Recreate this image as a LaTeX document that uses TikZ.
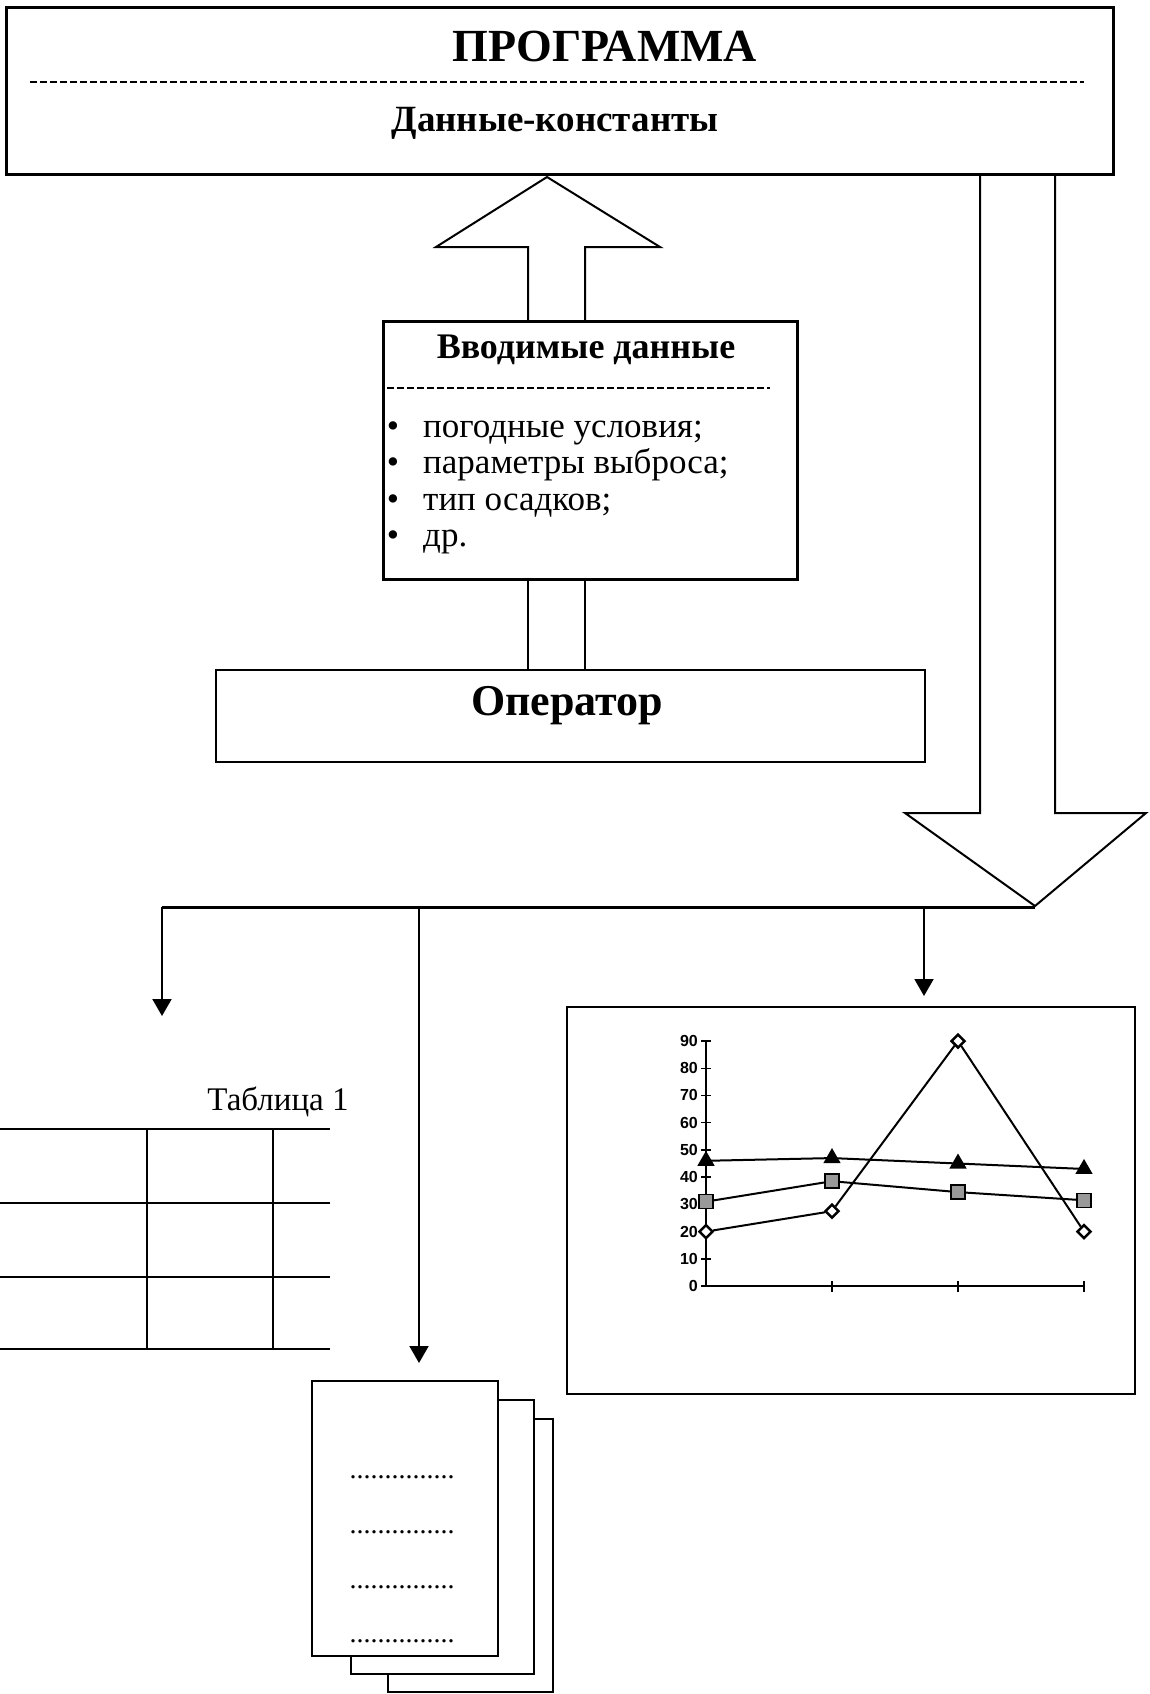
\documentclass[tikz,border=0pt]{standalone}
\usepackage{fontspec}
\setmainfont{Liberation Serif}
\setsansfont{Liberation Sans}
\usetikzlibrary{arrows.meta,shapes.geometric}

\begin{document}
\begin{tikzpicture}[x=1pt,y=-1pt,
  box/.style={draw,line width=3pt,inner sep=0pt},
  sepline/.style={line width=2pt,dash pattern=on 7pt off 3pt},
  hollow/.style={line width=2pt,line join=miter},
  feed/.style={line width=2pt,-{Triangle[length=17pt,width=19pt]}},
  gridline/.style={line width=2pt},
  page/.style={draw,line width=2pt,fill=white,inner sep=0pt},
  lbl/.style={inner sep=0pt},
  diamark/.style={diamond,draw,line width=2.5pt,fill=white,minimum size=14pt,inner sep=0pt},
  sqmark/.style={rectangle,draw,line width=1.5pt,fill=black!40,minimum size=14pt,inner sep=0pt},
  trimark/.style={regular polygon,regular polygon sides=3,fill=black,minimum size=20pt,inner sep=0pt},
  serline/.style={line width=2pt}]
  \useasboundingbox (0,0) rectangle (1150,1694);

  % program block
  \node[box,minimum width=1107pt,minimum height=166pt] (prog) at (559.5,91) {};
  \node[lbl,anchor=base,font=\fontsize{46}{50}\selectfont\bfseries] (progname) at (605,62) {ПРОГРАММА};
  \draw[sepline] (30,82) -- (1084,82);
  \node[lbl,anchor=base,font=\fontsize{37}{40}\selectfont\bfseries] (consts) at (555,131) {Данные-константы};

  % input data
  \node[box,minimum width=414pt,minimum height=258pt] (input) at (590,450) {};
  \node[lbl,anchor=base,font=\fontsize{36}{40}\selectfont\bfseries] (inname) at (586,358) {Вводимые данные};
  \draw[sepline] (387,388) -- (770,388);
  \begin{scope}[font=\fontsize{35}{38}\selectfont]
   \foreach \txt [count=\i] in {погодные условия;,параметры выброса;,тип осадков;,др.} {
     \node[lbl,anchor=base] (bul\i) at (393,{437+36.5*(\i-1)}) {•};
     \node[lbl,anchor=base west] (item\i) at (423,{437+36.5*(\i-1)}) {\txt};
   }
  \end{scope}

  % operator
  \node[draw,line width=2.5pt,minimum width=709pt,minimum height=92pt] (oper) at (570.5,716) {};
  \node[lbl,anchor=base,font=\fontsize{44}{48}\selectfont\bfseries] (opname) at (567,715) {Оператор};

  % hollow arrow up
  \draw[hollow] (528,321) -- (528,247) -- (436,247) -- (547,177) -- (660,247) -- (585,247) -- (585,321);
  \draw[hollow] (528,579) -- (528,670);
  \draw[hollow] (585,579) -- (585,670);

  % hollow arrow down
  \draw[hollow] (980,175) -- (980,813) -- (905,813) -- (1035,906) -- (1146,813) -- (1055,813) -- (1055,175);

  % outputs
  \coordinate (tip) at (1035,907);
  \coordinate (fork) at (162,907);
  \coordinate (b2) at (419,907);
  \coordinate (b3) at (924,907);
  \coordinate (tabtop) at (162,1016);
  \draw[line width=3pt] (fork) -- (tip);
  \draw[feed] (fork) -- (tabtop);

  % table
  \node[lbl,anchor=base,font=\fontsize{33}{36}\selectfont] (tabcap) at (278,1110) {Таблица 1};
  \foreach \y in {1129,1203,1277,1349}
    \draw[gridline] (0,\y) -- (330,\y);
  \foreach \x in {147,273}
    \draw[gridline] (\x,1129) -- (\x,1349);

  % chart
  \node[draw,line width=2pt,minimum width=568pt,minimum height=387pt] (chart) at (851,1200.5) {};
  \draw[feed] (b3) -- ([yshift=10pt]b3 |- chart.north);
  \draw[line width=1.8pt] (706,1041) -- (706,1286) -- (1084,1286);
  \foreach \t in {0,10,...,90} {
    \draw[line width=1.5pt] (701,{1286-2.722*\t}) -- (711,{1286-2.722*\t});
    \node[lbl,anchor=east,font=\sffamily\bfseries\fontsize{16}{16}\selectfont] (yl\t) at (698,{1286-2.722*\t}) {\t};
  }
  \foreach \k in {1,2,3}
    \draw[line width=1.5pt] ({706+126*\k},1281) -- ({706+126*\k},1292);
  \foreach \v [count=\i] in {46,47,45,43}
    \node[trimark] (t\i) at ({706+126*(\i-1)},{1286-2.722*\v}) {};
  \draw[serline] (t1.center) -- (t2.center) -- (t3.center) -- (t4.center);
  \foreach \v [count=\i] in {31,38.5,34.5,31.5}
    \node[sqmark] (s\i) at ({706+126*(\i-1)},{1286-2.722*\v}) {};
  \draw[serline] (s1) -- (s2) -- (s3) -- (s4);
  \foreach \v [count=\i] in {20,27.5,90,20}
    \node[diamark] (d\i) at ({706+126*(\i-1)},{1286-2.722*\v}) {};
  \draw[serline] (d1) -- (d2) -- (d3) -- (d4);

  % document stack
  \node[page,minimum width=165pt,minimum height=273pt] (page3) at (470.5,1555.5) {};
  \node[page,minimum width=183pt,minimum height=274pt] (page2) at (442.5,1537) {};
  \node[page,minimum width=186pt,minimum height=275pt] (page1) at (405,1518.5) {};
  \draw[feed] (b2) -- ([yshift=17pt]b2 |- page1.north);
  \foreach \y [count=\i] in {1478,1533,1588,1642}
    \node[lbl,anchor=base,font=\fontsize{28}{28}\selectfont] (dots\i) at (402,\y) {...............};
\end{tikzpicture}
\end{document}
